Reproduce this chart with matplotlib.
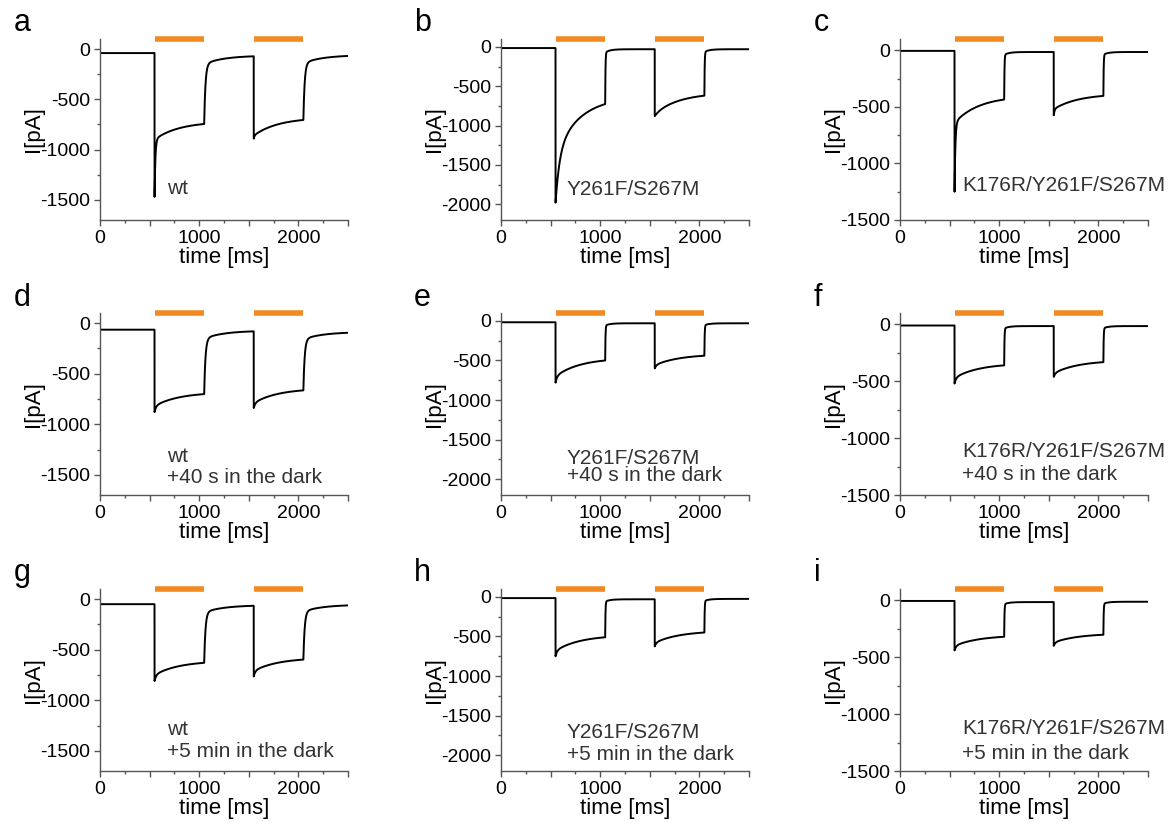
import numpy as np
import matplotlib.pyplot as plt
from matplotlib.ticker import MultipleLocator, FuncFormatter

plt.rcParams['font.family'] = ['Liberation Sans', 'DejaVu Sans']
plt.rcParams['axes.unicode_minus'] = False

# panel letters and labels
letters = ['a', 'b', 'c', 'd', 'e', 'f', 'g', 'h', 'i']
constructs = ['wt', 'Y261F/S267M', 'K176R/Y261F/S267M'] * 3
conditions = ['', '', '',
              '+40 s in the dark', '+40 s in the dark', '+40 s in the dark',
              '+5 min in the dark', '+5 min in the dark', '+5 min in the dark']

# light pulses [ms]
light_on = [550, 1550]
light_off = [1050, 2050]

# current levels per panel [pA]
base_pre = [-40, -15, -5, -65, -17, -10, -50, -15, -5]
peak1 = [-1470, -1980, -1250, -880, -780, -520, -810, -750, -440]
knee1 = [-900, -1350, -640, -820, -700, -470, -750, -680, -400]
end1 = [-745, -727, -435, -702, -500, -360, -630, -510, -320]
base_mid = [-65, -30, -15, -75, -30, -15, -60, -30, -15]
peak2 = [-890, -880, -574, -840, -600, -462, -765, -625, -400]
knee2 = [-860, -850, -520, -790, -560, -430, -710, -580, -370]
end2 = [-705, -620, -403, -665, -440, -332, -598, -450, -302]
base_post = [-60, -30, -15, -88, -30, -15, -55, -25, -12]

# kinetics [ms]
tau_fast = [8, 40, 8, 15, 15, 15, 15, 15, 15]
tau_slow = [250] * 9
off_tau_fast = [13, 3, 3] * 3
off_tau_slow = [200, 50, 50] * 3
off_slow_frac = [0.125, 0.06, 0.06] * 3

ylims = [(-1700, 100), (-2200, 100), (-1500, 100)] * 3


def desens(t, T, peak, knee, end, tf, ts):
    g = (np.exp(-t / ts) - np.exp(-T / ts)) / (1 - np.exp(-T / ts))
    return end + (knee - end) * g + (peak - knee) * np.exp(-t / tf)


def recover(t, start, base, tf, ts, frac):
    amp = start - base
    return base + amp * (1 - frac) * np.exp(-t / tf) + amp * frac * np.exp(-t / ts)


def trace(k, t):
    y = np.full_like(t, base_pre[k], dtype=float)
    T = light_off[0] - light_on[0]
    m = (t >= light_on[0]) & (t < light_off[0])
    y[m] = desens(t[m] - light_on[0], T, peak1[k], knee1[k], end1[k], tau_fast[k], tau_slow[k])
    m = (t >= light_off[0]) & (t < light_on[1])
    y[m] = recover(t[m] - light_off[0], end1[k], base_mid[k],
                   off_tau_fast[k], off_tau_slow[k], off_slow_frac[k])
    m = (t >= light_on[1]) & (t < light_off[1])
    y[m] = desens(t[m] - light_on[1], T, peak2[k], knee2[k], end2[k], tau_fast[k], tau_slow[k])
    m = t >= light_off[1]
    y[m] = recover(t[m] - light_off[1], end2[k], base_post[k],
                   off_tau_fast[k], off_tau_slow[k], off_slow_frac[k])
    return y


W, H = 1172, 824
fig = plt.figure(figsize=(W / 100, H / 100), dpi=100)

col_left = [100, 501, 900]
col_width = 248
row_top = [39, 313, 589]
row_bottom = [220, 495, 771]
letter_x = [14, 414, 814]
letter_base = [31, 306, 581]
text_x = [0.27, 0.266, 0.249]
text_y = [(0.144, None), (0.138, None), (0.158, None),
          (0.181, 0.066), (0.173, 0.075), (0.207, 0.083),
          (0.197, 0.075), (0.182, 0.063), (0.203, 0.066)]

t = np.arange(0, 2500.5, 0.5)
axis_col = '#555555'

for k in range(9):
    r, c = divmod(k, 3)
    ax = fig.add_axes([col_left[c] / W, 1 - row_bottom[r] / H,
                       col_width / W, (row_bottom[r] - row_top[r]) / H])
    ax.plot(t, trace(k, t), color='black', lw=1.4)

    # light bars along the top of each panel
    for on, off in zip(light_on, light_off):
        ax.plot([on, off], [1.0, 1.0], transform=ax.get_xaxis_transform(),
                color='#f28a22', lw=4, solid_capstyle='butt', clip_on=False)

    ax.set_xlim(0, 2500)
    ax.set_ylim(*ylims[k])
    for s in ['top', 'right']:
        ax.spines[s].set_visible(False)
    for s in ['left', 'bottom']:
        ax.spines[s].set_color(axis_col)
        ax.spines[s].set_linewidth(1.0)

    ax.xaxis.set_major_locator(MultipleLocator(500))
    ax.xaxis.set_minor_locator(MultipleLocator(250))
    ax.xaxis.set_major_formatter(FuncFormatter(lambda v, p: f'{v:.0f}' if v % 1000 == 0 else ''))
    ax.yaxis.set_major_locator(MultipleLocator(500))
    ax.yaxis.set_minor_locator(MultipleLocator(250))
    ax.yaxis.set_major_formatter(FuncFormatter(lambda v, p: f'{v:.0f}' if v <= 0 else ''))
    ax.tick_params(which='major', direction='out', length=4, width=1, color=axis_col,
                   labelsize=14, pad=3)
    ax.tick_params(which='minor', direction='out', length=2.5, width=1, color=axis_col)

    ax.set_xlabel('time [ms]', fontsize=16, labelpad=0)
    ax.set_ylabel('I[pA]', fontsize=16, labelpad=-3)

    y1, y2 = text_y[k]
    ax.text(text_x[c], y1, constructs[k], transform=ax.transAxes,
            fontsize=15, color='#333333', va='baseline')
    if y2 is not None:
        ax.text(text_x[c], y2, conditions[k], transform=ax.transAxes,
                fontsize=15, color='#333333', va='baseline')

    fig.text(letter_x[c] / W, 1 - letter_base[r] / H, letters[k],
             fontsize=22, va='baseline', ha='left')

fig.savefig('out.png', dpi=100)
plt.close(fig)
